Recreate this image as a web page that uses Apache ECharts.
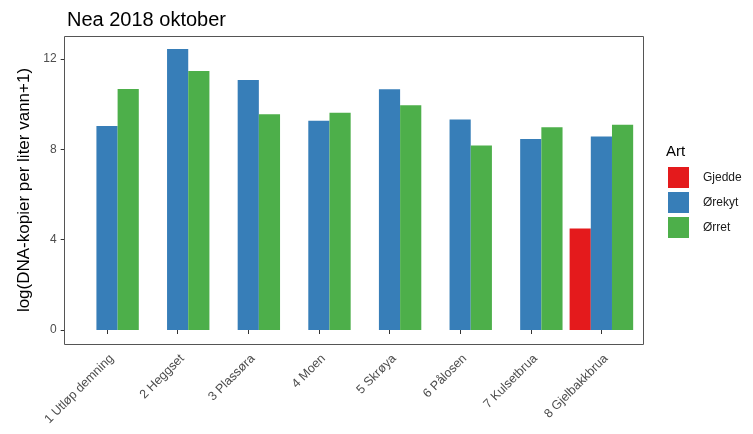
<!DOCTYPE html>
<html>
<head>
<meta charset="utf-8">
<script src="https://cdn.jsdelivr.net/npm/echarts@6/dist/echarts.min.js"></script>
<style>
  html, body { margin: 0; padding: 0; background: #fff; }
  #chart { width: 753px; height: 434px; }
</style>
</head>
<body>
<div id="chart"></div>
<script>
// Sampling sites along Nea, October 2018
const categories = ['1 Utløp demning', '2 Heggset', '3 Plassøra', '4 Moen', '5 Skrøya', '6 Pålosen', '7 Kulsetbrua', '8 Gjelbakkbrua'];
// log(DNA copies per litre water + 1) per species; null = not detected
const gjedde = [null, null, null, null, null, null, null, 4.49];
const orekyt = [9.03, 12.44, 11.07, 9.27, 10.66, 9.32, 8.46, 8.57];
const orret  = [10.67, 11.47, 9.55, 9.62, 9.95, 8.17, 8.98, 9.09];
const yTicks = [0, 4, 8, 12];
const speciesNames = ['Gjedde', 'Ørekyt', 'Ørret'];
const colors = ['#E41A1C', '#377EB8', '#4DAF4A'];

const FONT = 'Liberation Sans, Arial, sans-serif';

// Each species keeps its own dodge slot at every site (an empty slot where it is missing).
const seriesData = [gjedde, orekyt, orret];

const chart = echarts.init(document.getElementById('chart'), null, { renderer: 'canvas' });
chart.setOption({
  animation: false,
  textStyle: { fontFamily: FONT },
  title: {
    text: 'Nea 2018 oktober',
    left: 62, top: 5,
    textStyle: { fontSize: 20, fontWeight: 'normal', color: '#000', fontFamily: FONT }
  },
  grid: { left: 71.7, right: 116.3, top: 36, bottom: 90, containLabel: false },
  legend: {
    orient: 'vertical',
    left: 668, top: 167,
    padding: 0,
    itemWidth: 21, itemHeight: 21, itemGap: 4,
    icon: 'rect',
    data: speciesNames,
    textStyle: { fontSize: 12, color: '#1a1a1a', padding: [0, 0, 0, 9] }
  },
  graphic: [
    {
      type: 'text', left: 666, top: 144,
      style: { text: 'Art', fontSize: 15, fill: '#000', fontFamily: FONT }
    },
    {
      type: 'rect', z: 10, silent: true,
      shape: { x: 64.5, y: 36.5, width: 579, height: 308 },
      style: { fill: 'none', stroke: '#555', lineWidth: 1 }
    }
  ],
  xAxis: [{
    type: 'category', data: categories,
    axisLine: { show: false },
    axisTick: { show: true, alignWithLabel: true, length: 4, lineStyle: { color: '#333' } },
    axisLabel: {
      rotate: 45, fontSize: 12.5, color: '#4d4d4d', margin: 8, interval: 0,
      align: 'right', verticalAlign: 'top'
    },
    splitLine: { show: false }
  }],
  yAxis: [{
    type: 'value',
    min: -0.62, max: 13.02,
    offset: 7,
    name: 'log(DNA-kopier per liter vann+1)',
    nameLocation: 'middle', nameGap: 28,
    nameTextStyle: { fontSize: 17, color: '#000' },
    axisLine: { show: false },
    axisTick: { show: true, length: 4, lineStyle: { color: '#333' }, customValues: yTicks },
    axisLabel: { fontSize: 12, color: '#4d4d4d', margin: 8, customValues: yTicks },
    splitLine: { show: false }
  }],
  series: speciesNames.map((name, k) => ({
    type: 'bar',
    name: name,
    data: seriesData[k],
    barWidth: '30%',
    barGap: '0%',
    itemStyle: { color: colors[k] }
  }))
});
</script>
</body>
</html>
